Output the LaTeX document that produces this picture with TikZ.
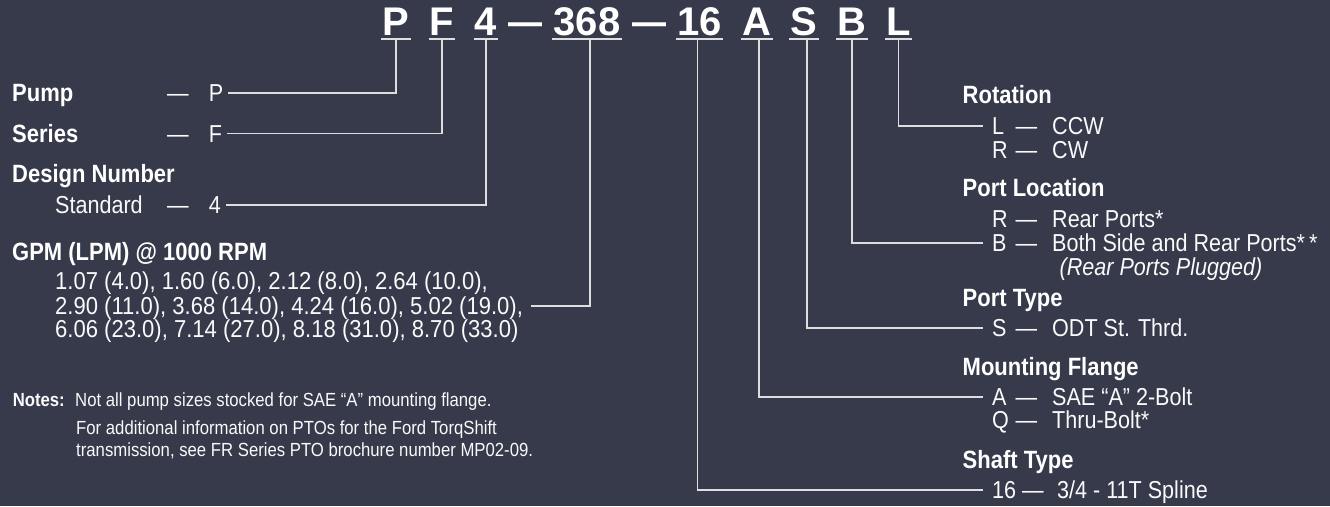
\documentclass[tikz,border=0pt]{standalone}
\usepackage{fontspec}
\setmainfont{Liberation Sans}
\newfontfamily\condf[FakeStretch=0.88]{Liberation Sans}
\newfontfamily\valf[FakeStretch=0.9]{Liberation Sans}
\newfontfamily\codef{Liberation Sans}
\definecolor{bgc}{RGB}{54,58,74}
\definecolor{linec}{RGB}{222,222,222}
\definecolor{txtc}{RGB}{250,250,250}
\newcommand{\coderow}[2]{\makebox[23.5pt][l]{#1}\makebox[36.5pt][l]{—}#2}
\newcommand{\leftrow}[1]{\makebox[41.6pt][l]{—}#1}
\tikzset{
  hdr/.style={anchor=west, inner sep=0pt, text=white, font=\condf\bfseries\fontsize{25}{30}\selectfont, text height=17.9pt, text depth=0pt},
  row/.style={anchor=west, inner sep=0pt, text=txtc, font=\condf\fontsize{24.5}{29}\selectfont, text height=17.5pt, text depth=0pt},
  valrow/.style={row, font=\valf\fontsize{24.5}{29}\selectfont},
  note/.style={anchor=west, inner sep=0pt, text=txtc, font=\condf\fontsize{19}{23}\selectfont, text height=13.6pt, text depth=0pt},
  notehdr/.style={note, font=\condf\bfseries\fontsize{19}{23}\selectfont},
  code/.style={anchor=base, inner sep=0pt, text=white, font=\codef\bfseries\fontsize{40}{48}\selectfont},
  conn/.style={draw=linec, line width=1.4pt},
  uline/.style={draw=linec, line width=2pt}
}
\begin{document}
\begin{tikzpicture}[x=1pt,y=-1pt]
\fill[bgc] (0,0) rectangle (1330,506);
\useasboundingbox (0,0) rectangle (1330,506);

% code row
\node[code] (cP) at (396,35) {P};
\node[code] (cF) at (442,35) {F};
\node[code] (c4) at (486,35) {4};
\node[code] (d1) at (525,35) {\scalebox{0.85}[1]{—}};
\node[code] (c368) at (587,35) {368};
\node[code] (d2) at (649,35) {\scalebox{0.85}[1]{—}};
\node[code] (c16) at (699.5,35) {16};
\node[code] (cA) at (757,35) {A};
\node[code] (cS) at (804,35) {S};
\node[code] (cB) at (852,35) {B};
\node[code] (cL) at (898.5,35) {L};
\foreach \n in {cP,cF,c4,c368,c16,cA,cS,cB,cL}{
  \draw[uline] ([xshift=-1pt,yshift=-3.5pt]\n.base west) -- ([xshift=1pt,yshift=-3.5pt]\n.base east);
}

% left side
\node[hdr] (hPump) at (12,93) {Pump};
\node[row] (vP) at (167,93) {\leftrow{P}};
\node[hdr] (hSeries) at (12,133.5) {Series};
\node[row] (vF) at (167,133.5) {\leftrow{F}};
\node[hdr] (hDesign) at (12,173.5) {Design Number};
\node[row] (v4) at (55,205) {\makebox[112pt][l]{Standard}\leftrow{4}};
\node[hdr] (hGPM) at (12,252) {GPM (LPM) @ 1000 RPM};
\node[valrow] (val1) at (55,281) {1.07 (4.0), 1.60 (6.0), 2.12 (8.0), 2.64 (10.0),};
\node[valrow] (val2) at (55,306) {2.90 (11.0), 3.68 (14.0), 4.24 (16.0), 5.02 (19.0),};
\node[valrow] (val3) at (55,329) {6.06 (23.0), 7.14 (27.0), 8.18 (31.0), 8.70 (33.0)};

\node[notehdr] (nhdr) at (12.6,400) {Notes:};
\node[note] (n1) at (75,400) {Not all pump sizes stocked for SAE “A” mounting flange.};
\node[note] (n2) at (76,428) {For additional information on PTOs for the Ford TorqShift};
\node[note] (n3) at (76,450) {transmission, see FR Series PTO brochure number MP02-09.};

% right side
\node[hdr] (hRot) at (962.5,95) {Rotation};
\node[row] (rL) at (992,126) {\coderow{L}{CCW}};
\node[row] (rR) at (992,150) {\coderow{R}{CW}};
\node[hdr] (hPL) at (962.5,188) {Port Location};
\node[row] (rRP) at (992,219) {\coderow{R}{Rear Ports*}};
\node[row] (rB) at (992,243) {\coderow{B}{Both Side and Rear Ports*\,*}};
\node[row] (rPl) at (1059.5,266.7) {\itshape (Rear Ports Plugged)};
\node[hdr] (hPT) at (962.5,298) {Port Type};
\node[row] (rS) at (992,328) {\coderow{S}{ODT St. Thrd.}};
\node[hdr] (hMF) at (962.5,367) {Mounting Flange};
\node[row] (rA) at (992,397) {\coderow{A}{SAE “A” 2-Bolt}};
\node[row] (rQ) at (992,420) {\coderow{Q}{Thru-Bolt*}};
\node[hdr] (hST) at (962.5,460) {Shaft Type};
\node[row] (r16) at (992,490) {\makebox[30pt][l]{16}\makebox[35pt][l]{—}3/4 - 11T Spline};

% connectors
\draw[conn] ([yshift=-3.5pt]cP.south) |- ([xshift=5pt]vP.east);
\draw[conn] ([yshift=-3.5pt]cF.south) |- ([xshift=5pt]vF.east);
\draw[conn] ([yshift=-3.5pt]c4.south) |- ([xshift=5pt]v4.east);
\draw[conn] ([xshift=3pt,yshift=-3.5pt]c368.south) |- ([xshift=8pt]val2.east);
\draw[conn] ([xshift=-2pt,yshift=-3.5pt]c16.south) |- ([xshift=-9pt]r16.west);
\draw[conn] ([xshift=2pt,yshift=-3.5pt]cA.south) |- ([xshift=-9pt]rA.west);
\draw[conn] ([xshift=3pt,yshift=-3.5pt]cS.south) |- ([xshift=-9pt]rS.west);
\draw[conn] ([yshift=-3.5pt]cB.south) |- ([xshift=-9pt]rB.west);
\draw[conn] ([yshift=-3.5pt]cL.south) |- ([xshift=-9pt]rL.west);
\end{tikzpicture}
\end{document}
